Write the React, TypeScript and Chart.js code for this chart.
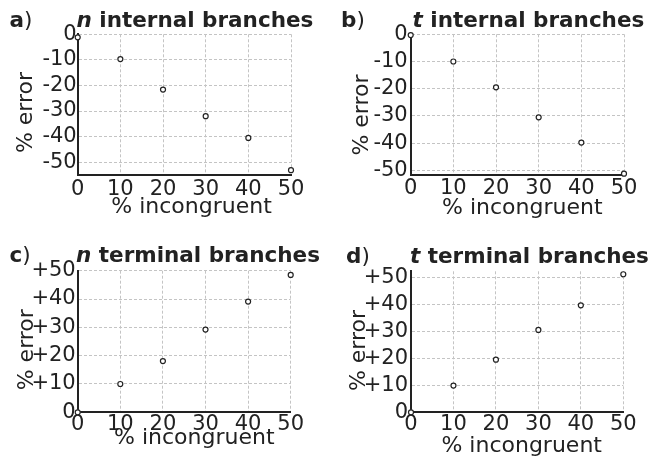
import React, { useEffect, useRef } from 'react';
import { Chart, registerables } from 'chart.js';

Chart.register(...registerables);

// ---------- data ----------
const xValues = [0, 10, 20, 30, 40, 50];
const nInternal = [-1.2, -9.7, -21.6, -32.0, -40.5, -53.1];
const tInternal = [-0.3, -10.0, -19.5, -30.5, -39.8, -51.2];
const nTerminal = [0, 10.0, 18.1, 29.2, 39.1, 48.5];
const tTerminal = [0, 9.9, 19.5, 30.5, 39.6, 51.1];

const xTicks = [0, 10, 20, 30, 40, 50];
const xTickLabels = ['0', '10', '20', '30', '40', '50'];
const internalTicks = [0, -10, -20, -30, -40, -50];
const internalTickLabels = ['0', '-10', '-20', '-30', '-40', '-50'];
const terminalTicks = [0, 10, 20, 30, 40, 50];
const terminalTickLabels = ['0', '+10', '+20', '+30', '+40', '+50'];

const panelLetters = ['a', 'b', 'c', 'd'];
const panelVars = ['n', 't', 'n', 't'];
const panelTitles = [' internal branches', ' internal branches', ' terminal branches', ' terminal branches'];
const xAxisTitle = '% incongruent';
const yAxisTitle = '% error';

// ---------- styling / layout ----------
const FONT = "'DejaVu Sans', 'Verdana', sans-serif";
const TEXT = '#222222';
const GRID = '#c4c4c4';
const AXIS = '#222222';
const W = 325;
const H = 228;

const panels = [
  {
    series: nInternal, yTicks: internalTicks, yLabels: internalTickLabels, yMin: -55, yMax: 0,
    left: 0, top: 0, area: { l: 77.7, r: 291, t: 34.3, b: 175 }, yPad: 1, xPad: 2,
    letterPos: [9.5, 26.5], titlePos: [76.5, 26.5], yTitlePos: [31.7, 112.5], xTitlePos: [191.5, 213.3],
  },
  {
    series: tInternal, yTicks: internalTicks, yLabels: internalTickLabels, yMin: -51.7, yMax: 0,
    left: 325, top: 0, area: { l: 85.7, r: 299, t: 34.3, b: 175 }, yPad: 3, xPad: 1,
    letterPos: [16, 26.5], titlePos: [87.5, 26.5], yTitlePos: [43.3, 115], xTitlePos: [197.3, 214],
  },
  {
    series: nTerminal, yTicks: terminalTicks, yLabels: terminalTickLabels, yMin: 0, yMax: 50,
    left: 0, top: 228, area: { l: 77.7, r: 290.7, t: 42.7, b: 184.3 }, yPad: 2, xPad: 0,
    letterPos: [9.5, 34], titlePos: [76, 34], yTitlePos: [33.3, 121.7], xTitlePos: [194.3, 215.7],
  },
  {
    series: tTerminal, yTicks: terminalTicks, yLabels: terminalTickLabels, yMin: 0, yMax: 52.2,
    left: 325, top: 228, area: { l: 86, r: 298.3, t: 43.3, b: 184.3 }, yPad: 3, xPad: 0,
    letterPos: [21, 35], titlePos: [85, 35], yTitlePos: [40, 122.5], xTitlePos: [196.7, 223.8],
  },
];

const panelText = {
  id: 'panelText',
  afterDraw(chart: any, _args: any, opts: any) {
    const ctx = chart.ctx;
    ctx.save();
    ctx.fillStyle = TEXT;
    ctx.textBaseline = 'alphabetic';
    ctx.textAlign = 'left';

    // panel letter "a)" : bold letter, regular parenthesis
    let x = opts.letterPos[0];
    ctx.font = `bold 21.5px ${FONT}`;
    ctx.fillText(opts.letter, x, opts.letterPos[1]);
    x += ctx.measureText(opts.letter).width;
    ctx.font = `21.5px ${FONT}`;
    ctx.fillText(')', x, opts.letterPos[1]);

    // title: bold italic variable + bold rest
    x = opts.titlePos[0];
    ctx.font = `italic bold 21.5px ${FONT}`;
    ctx.fillText(opts.variable, x, opts.titlePos[1]);
    x += ctx.measureText(opts.variable).width;
    ctx.font = `bold 21.5px ${FONT}`;
    ctx.fillText(opts.title, x, opts.titlePos[1]);

    // axis titles
    ctx.font = `22px ${FONT}`;
    ctx.textAlign = 'center';
    ctx.fillText(opts.xTitle, opts.xTitlePos[0], opts.xTitlePos[1]);

    ctx.translate(opts.yTitlePos[0], opts.yTitlePos[1]);
    ctx.rotate(-Math.PI / 2);
    ctx.fillText(opts.yTitle, 0, 0);
    ctx.restore();
  },
};

function Panel({ index }: { index: number }) {
  const ref = useRef<HTMLCanvasElement | null>(null);
  const p = panels[index];

  useEffect(() => {
    if (!ref.current) return;
    const chart = new Chart(ref.current, {
      type: 'scatter',
      data: {
        datasets: [
          {
            data: xValues.map((xv, i) => ({ x: xv, y: p.series[i] })),
            showLine: false,
            pointRadius: 2.5,
            pointBorderWidth: 1.2,
            pointBorderColor: '#222222',
            pointBackgroundColor: '#ffffff',
            clip: false as any,
          },
        ],
      },
      options: {
        responsive: false,
        animation: false,
        devicePixelRatio: 1,
        layout: { padding: { left: 0, top: p.area.t, right: W - p.area.r, bottom: 0 } },
        plugins: {
          legend: { display: false },
          tooltip: { enabled: false },
          panelText: {
            letter: panelLetters[index],
            variable: panelVars[index],
            title: panelTitles[index],
            xTitle: xAxisTitle,
            yTitle: yAxisTitle,
            letterPos: p.letterPos,
            titlePos: p.titlePos,
            xTitlePos: p.xTitlePos,
            yTitlePos: p.yTitlePos,
          },
        } as any,
        scales: {
          x: {
            type: 'linear',
            min: 0,
            max: 50,
            afterBuildTicks: (s: any) => { s.ticks = xTicks.map((v) => ({ value: v })); },
            afterFit: (s: any) => { s.height = H - p.area.b; },
            ticks: {
              autoSkip: false,
              maxRotation: 0,
              padding: p.xPad,
              color: TEXT,
              font: { family: FONT, size: 21 },
              callback: (v: any) => { const k = xTicks.indexOf(Number(v)); return k >= 0 ? xTickLabels[k] : ''; },
            },
            grid: { color: GRID, lineWidth: 1, drawTicks: false },
            border: { display: true, color: AXIS, width: 2, dash: [3, 2] },
          },
          y: {
            type: 'linear',
            min: p.yMin,
            max: p.yMax,
            afterBuildTicks: (s: any) => { s.ticks = p.yTicks.map((v) => ({ value: v })); },
            afterFit: (s: any) => { s.width = p.area.l; },
            ticks: {
              autoSkip: false,
              padding: p.yPad,
              color: TEXT,
              font: { family: FONT, size: 21 },
              callback: (v: any) => { const k = p.yTicks.indexOf(Number(v)); return k >= 0 ? p.yLabels[k] : ''; },
            },
            grid: { color: GRID, lineWidth: 1, drawTicks: false },
            border: { display: true, color: AXIS, width: 2, dash: [3, 2] },
          },
        },
      } as any,
      plugins: [panelText as any],
    });
    return () => chart.destroy();
  }, [index]);

  return (
    <canvas
      ref={ref}
      width={W}
      height={H}
      style={{ position: 'absolute', left: p.left, top: p.top, width: W, height: H, display: 'block' }}
    />
  );
}

export default function App() {
  return (
    <div style={{ position: 'absolute', left: 0, top: 0, width: 650, height: 456, background: '#ffffff', overflow: 'hidden' }}>
      {panels.map((_, i) => (
        <Panel key={i} index={i} />
      ))}
    </div>
  );
}
